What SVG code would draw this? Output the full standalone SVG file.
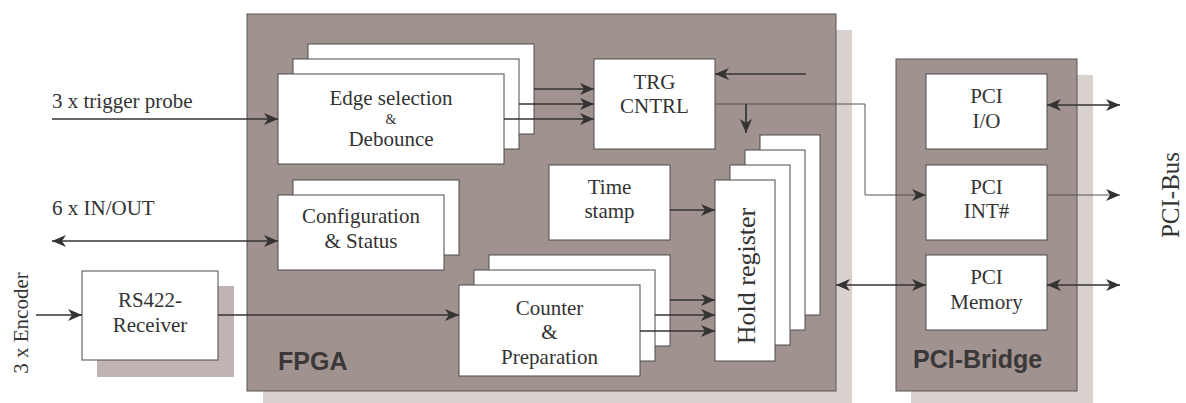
<svg xmlns="http://www.w3.org/2000/svg" width="1186" height="403" viewBox="0 0 1186 403">
<style>
.bg{fill:#fff}
.blk{fill:#a0928f;stroke:#5a5555;stroke-width:1}
.sh{fill:#d9d1ce}
.sh2{fill:#bfb4b1}
.box{fill:#fff;stroke:#4a4a4a;stroke-width:1}
.t{font-family:"Liberation Serif","Times New Roman",serif;font-size:21px;fill:#333;text-anchor:middle}
.ts{font-family:"Liberation Serif","Times New Roman",serif;font-size:14px;fill:#333;text-anchor:middle}
.tl{font-family:"Liberation Serif","Times New Roman",serif;font-size:21px;fill:#333}
.lbl{font-family:"Liberation Sans",Arial,sans-serif;font-size:25px;font-weight:bold;fill:#3a3838}
.c{fill:none;stroke:#333;stroke-width:1.7}
.c2{fill:none;stroke:#555;stroke-width:1}
</style>
<defs>
<marker id="ah" markerUnits="userSpaceOnUse" markerWidth="15" markerHeight="13" refX="14" refY="6.5" orient="auto-start-reverse" viewBox="0 0 15 13">
<path d="M0,0.5 L14,6.5 L0,12.5 L4,6.5 z" fill="#333"/>
</marker>
</defs>
<rect class="bg" x="0" y="0" width="1186" height="403"/>

<g id="fpga">
<rect class="sh" x="263" y="30" width="589" height="375"/>
<rect class="blk" x="247" y="14" width="589" height="377"/>
<text class="lbl" x="278" y="370">FPGA</text>
</g>

<g id="pci-bridge">
<rect class="sh" x="911" y="75" width="182" height="330"/>
<rect class="blk" x="896" y="59" width="181" height="332"/>
<text class="lbl" x="913" y="368">PCI-Bridge</text>
</g>

<g id="edge-selection">
<rect class="box" x="308" y="44" width="226" height="90"/>
<rect class="box" x="293" y="59" width="226" height="90"/>
<rect class="box" x="278" y="74" width="226" height="90"/>
<text class="t" x="391" y="105">Edge selection</text>
<text class="ts" x="391" y="124">&amp;</text>
<text class="t" x="391" y="146">Debounce</text>
</g>

<g id="trg-cntrl">
<rect class="box" x="594" y="59" width="121" height="90"/>
<text class="t" x="654.5" y="89">TRG</text>
<text class="t" x="654.5" y="113">CNTRL</text>
</g>

<g id="time-stamp">
<rect class="box" x="549" y="165" width="121" height="75"/>
<text class="t" x="609.5" y="194">Time</text>
<text class="t" x="609.5" y="218">stamp</text>
</g>

<g id="configuration">
<rect class="box" x="293" y="180" width="166" height="75"/>
<rect class="box" x="278" y="195" width="166" height="75"/>
<text class="t" x="361" y="223">Configuration</text>
<text class="t" x="361" y="248">&amp; Status</text>
</g>

<g id="counter">
<rect class="box" x="489" y="255" width="181" height="91"/>
<rect class="box" x="474" y="270" width="181" height="91"/>
<rect class="box" x="459" y="285" width="181" height="91"/>
<text class="t" x="549.5" y="315">Counter</text>
<text class="t" x="549.5" y="339">&amp;</text>
<text class="t" x="549.5" y="364">Preparation</text>
</g>

<g id="hold-register">
<rect class="box" x="760" y="135" width="60" height="180"/>
<rect class="box" x="745" y="150" width="60" height="180"/>
<rect class="box" x="730" y="165" width="60" height="180"/>
<rect class="box" x="715" y="180" width="60" height="181"/>
<text class="t" style="font-size:26px" transform="translate(755,276) rotate(-90)">Hold register</text>
</g>

<g id="rs422">
<rect class="sh2" x="97" y="286" width="137" height="91"/>
<rect class="box" x="82" y="271" width="136" height="89"/>
<text class="t" x="150" y="307">RS422-</text>
<text class="t" x="150" y="332">Receiver</text>
</g>

<g id="pci-io">
<rect class="box" x="926" y="74" width="121" height="75"/>
<text class="t" x="986.5" y="103">PCI</text>
<text class="t" x="986.5" y="128">I/O</text>
</g>

<g id="pci-int">
<rect class="box" x="926" y="165" width="121" height="75"/>
<text class="t" x="986.5" y="194">PCI</text>
<text class="t" x="986.5" y="218">INT#</text>
</g>

<g id="pci-memory">
<rect class="box" x="926" y="255" width="121" height="75"/>
<text class="t" x="986.5" y="284">PCI</text>
<text class="t" x="986.5" y="309">Memory</text>
</g>

<g id="labels">
<text class="tl" x="52" y="108">3 x trigger probe</text>
<text class="tl" x="52" y="215">6 x IN/OUT</text>
<text class="t" transform="translate(28,323) rotate(-90)">3 x Encoder</text>
<text class="t" style="font-size:25px" transform="translate(1179,195) rotate(-90)">PCI-Bus</text>
</g>

<g id="connectors">
<path class="c" d="M52,119 H278" marker-end="url(#ah)"/>
<path class="c" d="M52,241 H278" marker-start="url(#ah)" marker-end="url(#ah)"/>
<path class="c" d="M36,315 H82" marker-end="url(#ah)"/>
<path class="c" d="M218,315 H459" marker-end="url(#ah)"/>
<path class="c" d="M534,89 H594" marker-end="url(#ah)"/>
<path class="c" d="M519,104 H594" marker-end="url(#ah)"/>
<path class="c" d="M504,119 H594" marker-end="url(#ah)"/>
<path class="c" d="M806,74 H715" marker-end="url(#ah)"/>
<path class="c2" d="M715,104 H865 V195 H926" marker-end="url(#ah)"/>
<path class="c" d="M746,104 V133" marker-end="url(#ah)"/>
<path class="c" d="M670,210 H715" marker-end="url(#ah)"/>
<path class="c" d="M670,300 H715" marker-end="url(#ah)"/>
<path class="c" d="M655,315 H715" marker-end="url(#ah)"/>
<path class="c" d="M640,331 H715" marker-end="url(#ah)"/>
<path class="c" d="M836,285 H926" marker-start="url(#ah)" marker-end="url(#ah)"/>
<path class="c" d="M1047,105 H1120" marker-start="url(#ah)" marker-end="url(#ah)"/>
<path class="c2" d="M1047,195 H1120" marker-end="url(#ah)"/>
<path class="c" d="M1047,285 H1120" marker-start="url(#ah)" marker-end="url(#ah)"/>
</g>
</svg>
